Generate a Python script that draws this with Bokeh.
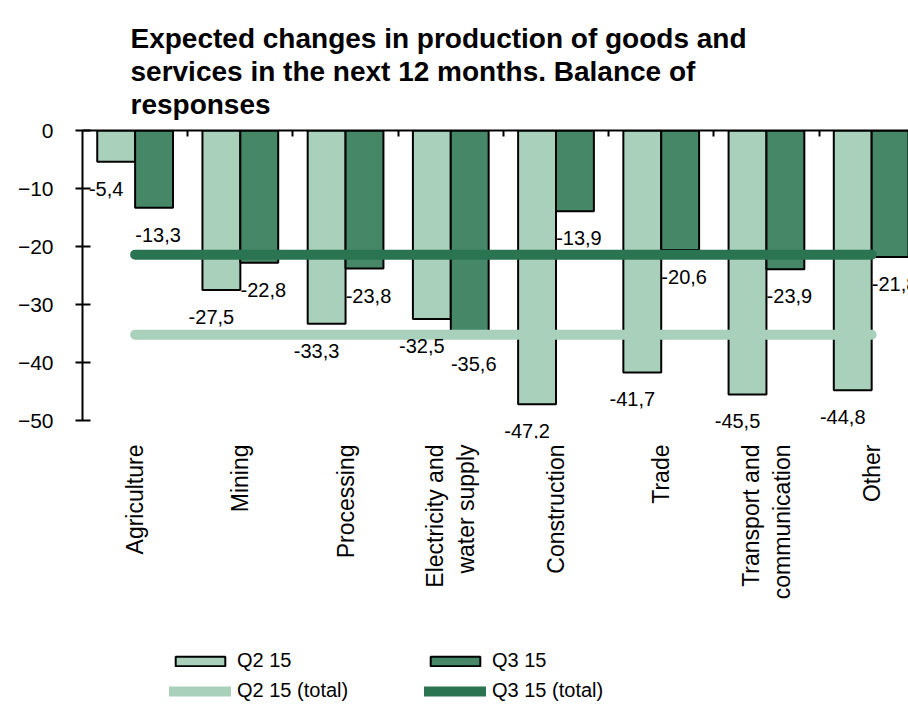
import numpy as np
from bokeh.plotting import figure
from bokeh.layouts import column
from bokeh.models import (Range1d, LinearAxis, FixedTicker, Legend, LegendItem,
                          Title, ColumnDataSource)
from bokeh.core.properties import value
from bokeh.embed import file_html
from bokeh.resources import INLINE

categories = ["Agriculture", "Mining", "Processing", "Electricity and\nwater supply",
              "Construction", "Trade", "Transport and\ncommunication", "Other"]
q2_15 = [-5.4, -27.5, -33.3, -32.5, -47.2, -41.7, -45.5, -44.8]
q3_15 = [-13.3, -22.8, -23.8, -35.6, -13.9, -20.6, -23.9, -21.8]
q2_15_total = -35.2
q3_15_total = -21.4
y_ticks = [0, -10, -20, -30, -40, -50]
series_names = ["Q2 15", "Q3 15", "Q2 15 (total)", "Q3 15 (total)"]
title_text = ("Expected changes in production of goods and\n"
              "services  in the next 12 months. Balance of\n"
              "responses")

LIGHT = "#A8D0BA"
DARK = "#458767"
DARK_LINE = "#2B7452"
FONT = "Liberation Sans"

n = len(categories)
idx = np.arange(n)
centers = idx + 0.5
bar_w = 0.36

def fmt(v):
    return f"{v:.1f}".replace(".", ",")

src_q2 = ColumnDataSource(dict(x=centers - bar_w / 2, top=q2_15,
                               lab=[fmt(v) for v in q2_15]))
src_q3 = ColumnDataSource(dict(x=centers + bar_w / 2, top=q3_15,
                               lab=[fmt(v) for v in q3_15]))
src_t2 = ColumnDataSource(dict(x=centers, y=[q2_15_total] * n))
src_t3 = ColumnDataSource(dict(x=centers, y=[q3_15_total] * n))

p = figure(width=908, height=638, x_range=Range1d(0, 7.85), y_range=Range1d(-53.1, 0),
           output_backend="svg", toolbar_location=None,
           x_axis_type=None, y_axis_type=None,
           min_border_left=82, min_border_right=0, min_border_top=130,
           min_border_bottom=200)
p.grid.visible = False
p.outline_line_color = None
p.background_fill_color = "white"

# title
p.title = Title(text=title_text, align="left", offset=48,
                text_font=FONT, text_font_size="28px", text_font_style="bold",
                text_color="black", standoff=20, text_line_height=1.08)

# y axis
yax = LinearAxis(ticker=FixedTicker(ticks=y_ticks), bounds=(min(y_ticks), max(y_ticks)))
yax.major_label_text_font = FONT
yax.major_label_text_font_size = "21px"
yax.major_label_text_color = "black"
yax.axis_line_width = 2
yax.axis_line_color = "black"
yax.major_tick_line_width = 2
yax.major_tick_line_color = "black"
yax.major_tick_in = 8
yax.major_tick_out = 7
yax.minor_tick_line_color = None
yax.major_label_standoff = 22
p.add_layout(yax, "left")

# top axis line with category-boundary ticks at y=0 (no labels)
tax = LinearAxis(ticker=FixedTicker(ticks=list(range(1, n))))
tax.major_label_text_color = None
tax.major_label_text_font_size = "1px"
tax.axis_line_width = 2
tax.axis_line_color = "black"
tax.major_tick_line_width = 2
tax.major_tick_line_color = "black"
tax.major_tick_in = 6
tax.major_tick_out = 0
tax.minor_tick_line_color = None
tax.major_label_standoff = 0
p.add_layout(tax, "above")

# bottom category labels
bax = LinearAxis(ticker=FixedTicker(ticks=list(centers)),
                 major_label_overrides={float(c): name for c, name in zip(centers, categories)})
bax.axis_line_color = None
bax.major_tick_line_color = None
bax.minor_tick_line_color = None
bax.major_label_orientation = np.pi / 2
bax.major_label_text_font = FONT
bax.major_label_text_font_size = "23px"
bax.major_label_text_color = "black"
bax.major_label_standoff = 0
p.add_layout(bax, "below")

# bars and total lines
bar_q2 = dict(x="x", top="top", bottom=0, width=bar_w, fill_color=LIGHT,
              line_color="black", line_width=2)
bar_q3 = dict(x="x", top="top", bottom=0, width=bar_w, fill_color=DARK,
              line_color="black", line_width=2)
line_t2 = dict(x="x", y="y", line_width=10, line_color=LIGHT, line_cap="round")
line_t3 = dict(x="x", y="y", line_width=10, line_color=DARK_LINE, line_cap="round")

p.vbar(source=src_q2, **bar_q2)
p.vbar(source=src_q3, **bar_q3)
p.line(source=src_t2, **line_t2)
p.line(source=src_t3, **line_t3)

# value labels
p.text(x="x", y="top", text="lab", source=src_q2, text_align="center",
       text_baseline="middle", x_offset=-10, y_offset=27,
       text_font=value(FONT), text_font_size=value("20px"), text_color="black")
p.text(x="x", y="top", text="lab", source=src_q3, text_align="center",
       text_baseline="middle", x_offset=4, y_offset=27,
       text_font=value(FONT), text_font_size=value("20px"), text_color="black")

# legend strip below the chart (same series, kept outside its visible range)
lg = figure(width=908, height=67, x_range=Range1d(-20, -19), y_range=Range1d(20, 21),
            output_backend="svg", toolbar_location=None,
            x_axis_type=None, y_axis_type=None,
            min_border_left=82, min_border_right=0, min_border_top=0, min_border_bottom=0)
lg.grid.visible = False
lg.outline_line_color = None
l_q2 = lg.vbar(source=src_q2, **bar_q2)
l_q3 = lg.vbar(source=src_q3, **bar_q3)
l_t2 = lg.line(source=src_t2, **line_t2)
l_t3 = lg.line(source=src_t3, **line_t3)

legend = Legend(items=[LegendItem(label=series_names[0], renderers=[l_q2]),
                       LegendItem(label=series_names[2], renderers=[l_t2]),
                       LegendItem(label=series_names[1], renderers=[l_q3]),
                       LegendItem(label=series_names[3], renderers=[l_t3])],
                ncols=2, location=(87, 3))
legend.label_text_font = FONT
legend.label_text_font_size = "20px"
legend.label_text_color = "black"
legend.glyph_width = 62
legend.glyph_height = 12
legend.label_width = 180
legend.label_standoff = 6
legend.spacing = 7
legend.padding = 0
legend.margin = 0
legend.border_line_color = None
legend.background_fill_alpha = 0
lg.add_layout(legend, "center")

layout = column(p, lg, spacing=0)
open("out.html", "w").write(file_html(layout, INLINE))
